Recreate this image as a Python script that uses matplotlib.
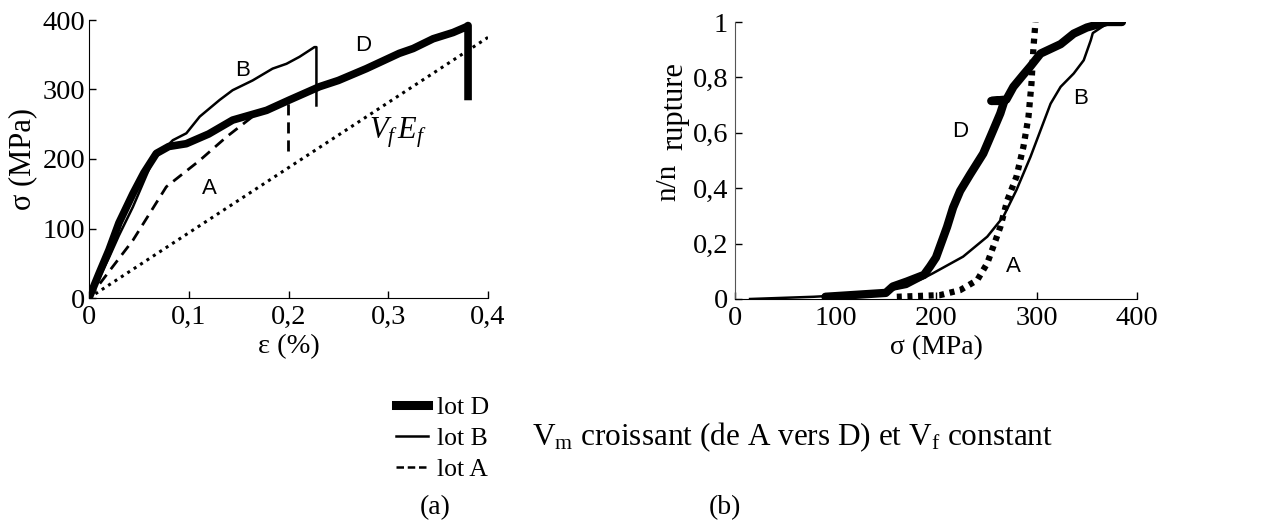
import matplotlib
matplotlib.use("Agg")
import matplotlib.pyplot as plt
from matplotlib.lines import Line2D

plt.rcParams['font.family'] = ['Liberation Serif', 'DejaVu Serif']
plt.rcParams['mathtext.fontset'] = 'custom'
plt.rcParams['mathtext.rm'] = 'Liberation Serif'
plt.rcParams['mathtext.it'] = 'Liberation Serif:italic'

# ---- (a) stress-strain data ----
eps_D = [0, 0.01, 0.02, 0.03, 0.044, 0.055, 0.0675, 0.08, 0.0975, 0.12, 0.144, 0.178,
         0.201, 0.231, 0.25, 0.278, 0.311, 0.325, 0.345, 0.365, 0.378, 0.38, 0.38]
sig_D = [0, 35, 69, 108, 150, 180, 208, 218, 222, 236, 256, 270,
         285, 304, 313, 330, 352, 359, 373, 382, 390, 392, 290]

eps_B = [0, 0.01, 0.02, 0.03, 0.044, 0.064, 0.084, 0.0976, 0.111, 0.131, 0.144, 0.164,
         0.184, 0.198, 0.211, 0.226, 0.228, 0.228]
sig_B = [0, 28, 58, 90, 131, 198, 227, 237, 261, 285, 299, 313,
         330, 337, 347, 361, 361, 277]

eps_A = [0, 0.02, 0.044, 0.0775, 0.111, 0.138, 0.164, 0.18, 0.198, 0.2, 0.2]
sig_A = [0, 38, 83, 160, 198, 232, 261, 272, 282, 283, 208]

eps_VfEf = [0, 0.4]
sig_VfEf = [0, 375]

# ---- (b) acoustic emission cumulative data ----
sigD_r = [90, 120, 150, 157, 171, 188, 194, 200, 204, 211, 217, 224, 234, 247, 257, 264,
          268, 255, 270, 277, 287, 294, 304, 324, 337, 350, 370, 385]
nD_r = [0.008, 0.015, 0.022, 0.045, 0.063, 0.087, 0.117, 0.15, 0.19, 0.26, 0.33, 0.39,
        0.45, 0.525, 0.61, 0.67, 0.715, 0.715, 0.72, 0.766, 0.81, 0.84, 0.886, 0.92,
        0.958, 0.98, 1.0, 1.0]

sigB_r = [15, 78, 138, 171, 197, 227, 251, 267, 280, 294, 304, 314, 324, 337, 347, 354,
          356, 370, 385]
nB_r = [0, 0.008, 0.02, 0.044, 0.093, 0.153, 0.225, 0.297, 0.393, 0.513, 0.609, 0.705,
        0.766, 0.814, 0.862, 0.934, 0.96, 0.994, 1.0]

sigA_r = [161, 204, 224, 241, 251, 257, 264, 271, 280, 287, 292, 295, 297, 299]
nA_r = [0.008, 0.014, 0.032, 0.068, 0.129, 0.189, 0.26, 0.357, 0.441, 0.55, 0.657,
        0.778, 0.91, 1.0]

xticks_a = [0, 0.1, 0.2, 0.3, 0.4]
xlabels_a = ['0', '0,1', '0,2', '0,3', '0,4']
yticks_a = [0, 100, 200, 300, 400]
xticks_b = [0, 100, 200, 300, 400]
yticks_b = [0, 0.2, 0.4, 0.6, 0.8, 1.0]
ylabels_b = ['0', '0,2', '0,4', '0,6', '0,8', '1']

W, H = 1261, 528
fig = plt.figure(figsize=(W / 100, H / 100), dpi=100)

TICK_FS = 20.5

def style(ax, ypad):
    ax.spines['top'].set_visible(False)
    ax.spines['right'].set_visible(False)
    ax.tick_params(direction='in', length=5, width=1, labelsize=TICK_FS)
    ax.tick_params(axis='x', pad=5)
    ax.tick_params(axis='y', pad=ypad)

# (a)
ax1 = fig.add_axes([89 / W, 1 - 298 / H, (488 - 89) / W, (298 - 20) / H])
ax1.plot(eps_VfEf, sig_VfEf, color='black', lw=2.2, linestyle=(0, (1, 1.5)))
ax1.plot(eps_A, sig_A, color='black', lw=2, linestyle=(0, (4, 2.5)))
ax1.plot(eps_B, sig_B, color='black', lw=1.8)
ax1.plot(eps_D, sig_D, color='black', lw=5.5)
ax1.set_xlim(0, 0.4)
ax1.set_ylim(0, 400)
ax1.set_xticks(xticks_a)
ax1.set_xticklabels(xlabels_a)
ax1.set_yticks(yticks_a)
style(ax1, 2.5)
ax1.set_xlabel('ε (%)', fontsize=20.5, labelpad=3)
ax1.set_ylabel('σ (MPa)', fontsize=22, labelpad=4)
ax1.text(0.154, 328, 'B', fontsize=16, family='Liberation Sans', ha='center', va='center')
ax1.text(0.275, 364, 'D', fontsize=16, family='Liberation Sans', ha='center', va='center')
ax1.text(0.121, 157, 'A', fontsize=16, family='Liberation Sans', ha='center', va='center')
ax1.text(0.31, 238, r'$V_f\,E_f$', fontsize=22, ha='center', va='center')

# (b)
ax2 = fig.add_axes([735 / W, 1 - 299 / H, (1137 - 735) / W, (299 - 22) / H])
ax2.plot(sigB_r, nB_r, color='black', lw=1.8)
ax2.plot(sigA_r, nA_r, color='black', lw=4.5, linestyle=(0, (0.8, 0.9)))
ax2.plot(sigD_r, nD_r, color='black', lw=6, solid_joinstyle='round', solid_capstyle='round')
ax2.set_xlim(0, 400)
ax2.set_ylim(0, 1.0)
ax2.set_xticks(xticks_b)
ax2.set_yticks(yticks_b)
ax2.set_yticklabels(ylabels_b)
style(ax2, 5)
ax2.spines['left'].set_color('#555555')
ax2.set_xlabel('σ (MPa)', fontsize=20, labelpad=3)
ax2.text(224, 0.603, 'D', fontsize=16, family='Liberation Sans', ha='center', va='center')
ax2.text(344, 0.724, 'B', fontsize=16, family='Liberation Sans', ha='center', va='center')
ax2.text(277, 0.117, 'A', fontsize=16, family='Liberation Sans', ha='center', va='center')
# y label of (b): "n/n" with a large "rupture" subscript
fig.text(668 / W, 1 - 182 / H, 'n/n', fontsize=21, rotation=90, ha='center', va='center')
fig.text(675 / W, 1 - 106 / H, 'rupture', fontsize=22, rotation=90, ha='center', va='center')

# legend
handles = [Line2D([], [], color='black', lw=6.5),
           Line2D([], [], color='black', lw=1.8),
           Line2D([], [], color='black', lw=1.8, linestyle=(0, (3, 1.5)))]
fig.legend(handles, ['lot D', 'lot B', 'lot A'], loc='upper left',
           bbox_to_anchor=(386 / W, 1 - 386 / H), frameon=False, fontsize=18.5,
           handlelength=1.25, handletextpad=0.35, labelspacing=0.3, borderaxespad=0)

fig.text(532 / W, 1 - 437 / H, r'V$_{\mathrm{m}}$ croissant (de A vers D) et V$_{\mathrm{f}}$ constant',
         fontsize=22.5, ha='left', va='center')
fig.text(435 / W, 1 - 508 / H, '(a)', fontsize=20, ha='center', va='center')
fig.text(725 / W, 1 - 508 / H, '(b)', fontsize=20, ha='center', va='center')

fig.savefig('out.png', dpi=100)
